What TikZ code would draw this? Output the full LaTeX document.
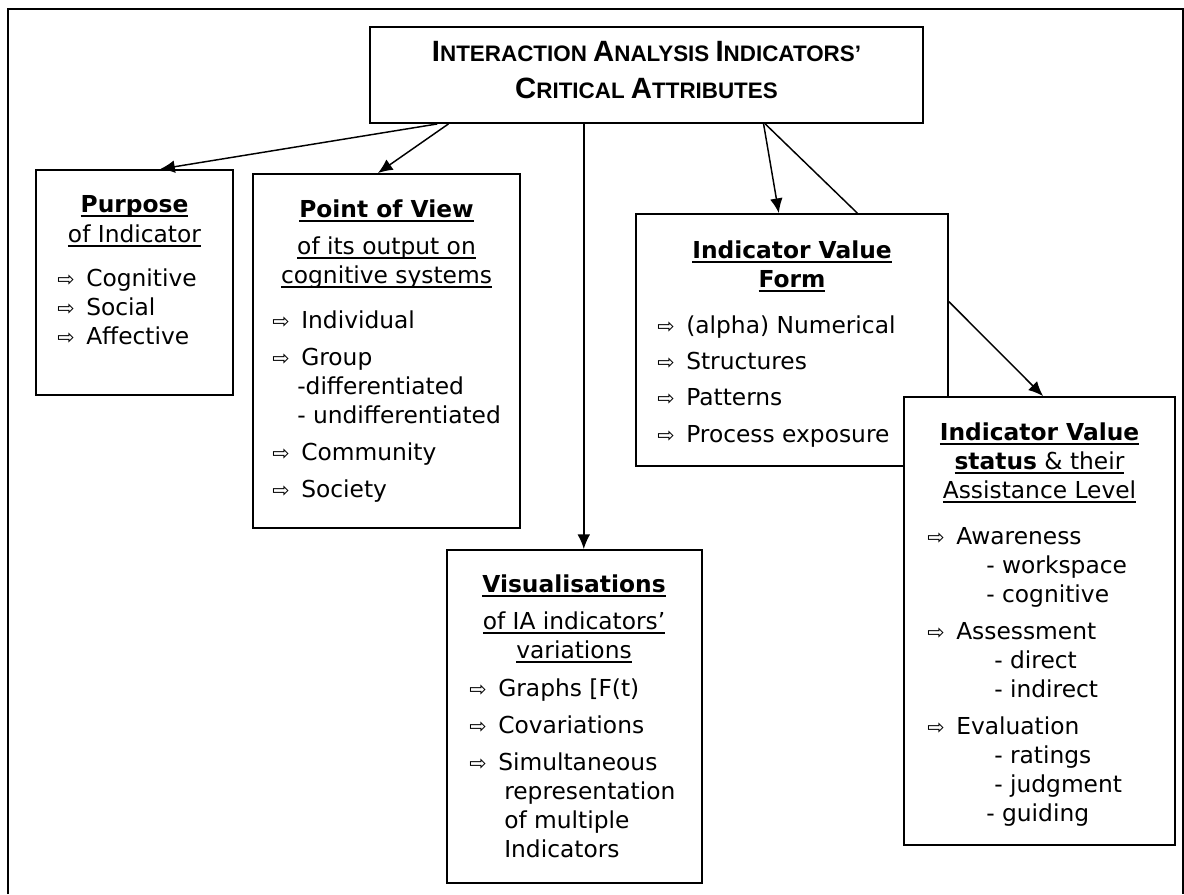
\documentclass[tikz,border=0pt]{standalone}
\usepackage{fontspec}
\setmainfont{DejaVu Sans}
\newfontfamily\titlefont{Liberation Sans}
\usepackage{tikz}
\usetikzlibrary{arrows.meta,calc,fit,positioning}

\newcommand\undl[2][0.9pt]{\setbox0=\hbox{#2}\rlap{\rule[-3.4pt]{\wd0}{#1}}\box0}
\newcommand\itm{\makebox[21.75pt][l]{\fontsize{15.5}{15.5}\selectfont ⇨}}
\newcommand\bigc[1]{{\fontsize{22}{24.75}\selectfont #1}}

\begin{document}
\begin{tikzpicture}[x=0.75pt,y=-0.75pt,
    box/.style={draw,line width=1.4pt,fill=white,inner sep=0pt},
    conn/.style={line width=1.1pt},
    arr/.style={conn,-{Latex[length=11pt,width=9.5pt]}},
    txt/.style={inner sep=0pt,font=\fontsize{17.5}{21.75}\selectfont},
    head/.style={txt,align=center,anchor=base},
    list/.style={txt,align=left,anchor=base west}]
    \def\sub{\hspace*{18.75pt}}
    \def\cont{\hspace*{26.25pt}}
    \def\subA{\hspace*{44.25pt}}
    \def\subB{\hspace*{50.25pt}}
    \useasboundingbox (0,0) rectangle (1184,894);
    \draw[line width=1.4pt] (8,894) -- (8,9) -- (1183,9) -- (1183,894);

    \node[box,fit={(370,27) (923,123)}] (title) {};
    \node[box,fit={(36,170) (233,395)}] (purpose) {};
    \node[box,fit={(253,174) (520,528)}] (pov) {};
    \node[box,fit={(447,550) (702,883)}] (vis) {};
    \node[box,fit={(636,214) (948,466)}] (ivf) {};
    \node[box,fit={(904,397) (1175,845)}] (ivs) {};

    \node[head,font=\titlefont\bfseries\fontsize{16.8}{24.75}\selectfont]
      (titletext) at (646.5,98)
      {\bigc{I}NTERACTION \bigc{A}NALYSIS \bigc{I}NDICATORS’\\[3pt]
       \bigc{C}RITICAL \bigc{A}TTRIBUTES};

    \node[head] (purposehead) at (134.5,242)
      {\undl[1.4pt]{\textbf{Purpose}}\\[0.75pt]
       \undl{of Indicator}};
    \node[list] (purposelist) at (57,344)
      {\itm Cognitive\\ \itm Social\\ \itm Affective};

    \node[head] (povhead) at (386.5,283)
      {\undl[1.4pt]{\textbf{Point of View}}\\[6pt]
       \undl{of its output on}\\
       \undl{cognitive systems}};
    \node[list] (povlist) at (272,497)
      {\itm Individual\\[6pt]
       \itm Group\\
       \sub-differentiated\\
       \sub- undifferentiated\\[6pt]
       \itm Community\\[6pt]
       \itm Society};

    \node[head] (vishead) at (574,658)
      {\undl[1.4pt]{\textbf{Visualisations}}\\[6pt]
       \undl{of IA indicators’}\\
       \undl{variations}};
    \node[list] (vislist) at (469,857)
      {\itm Graphs [F(t)\\[6pt]
       \itm Covariations\\[6pt]
       \itm Simultaneous\\
       \cont representation\\
       \cont of multiple\\
       \cont Indicators};

    \node[head] (ivfhead) at (792,287)
      {\undl[1.4pt]{\textbf{Indicator Value}}\\
       \undl[1.4pt]{\textbf{Form}}};
    \node[list] (ivflist) at (657,442)
      {\itm (alpha) Numerical\\[5.5pt]
       \itm Structures\\[5.5pt]
       \itm Patterns\\[5.5pt]
       \itm Process exposure};

    \node[head] (ivshead) at (1039.5,498)
      {\undl[1.4pt]{\textbf{Indicator Value}}\\
       \undl[1.4pt]{\textbf{status}}\undl{~\& their}\\
       \undl{Assistance Level}};
    \node[list] (ivslist) at (927,821)
      {\itm Awareness\\
       \subA- workspace\\
       \subA- cognitive\\[6pt]
       \itm Assessment\\
       \subB- direct\\
       \subB- indirect\\[6pt]
       \itm Evaluation\\
       \subB- ratings\\
       \subB- judgment\\
       \subA- guiding};

    \coordinate (visfrom) at ($(title.south west)!.387!(title.south east)$);
    \draw[arr] ($(title.south west)!.123!(title.south east)$) --
      ($(purpose.north west)!.629!(purpose.north east)$);
    \draw[arr] ($(title.south west)!.143!(title.south east)$) --
      ($(pov.north west)!.468!(pov.north east)$);
    \draw[arr] (visfrom) -- (visfrom |- vis.north);
    \draw[arr] ($(title.south west)!.711!(title.south east)$) --
      ($(ivf.north west)!.458!(ivf.north east)$);
    \draw[conn] ($(title.south west)!.714!(title.south east)$) --
      ($(ivf.north west)!.708!(ivf.north east)$);
    \draw[arr] ($(ivf.north east)!.349!(ivf.south east)$) --
      ($(ivs.north west)!.513!(ivs.north east)$);
\end{tikzpicture}
\end{document}
